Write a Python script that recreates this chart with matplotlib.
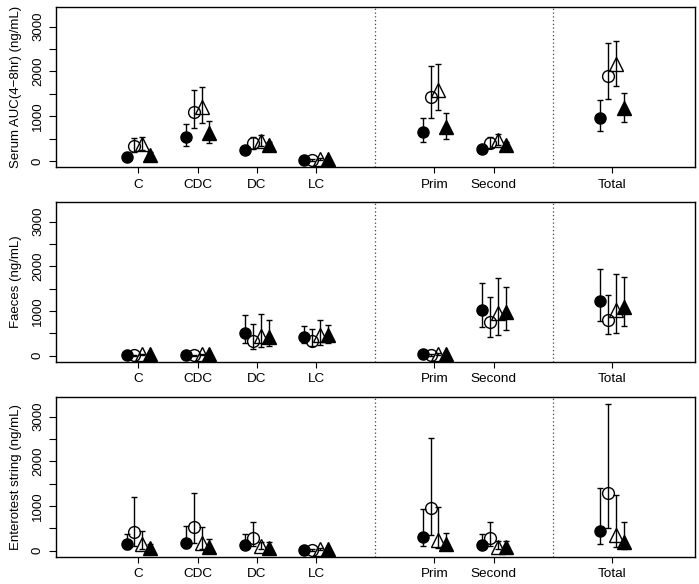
import matplotlib
matplotlib.use("Agg")
import matplotlib.pyplot as plt
import numpy as np

plt.rcParams['font.family'] = ['Liberation Sans', 'DejaVu Sans']

categories = ["C", "CDC", "DC", "LC", "Prim", "Second", "Total"]
xpos = [1, 2, 3, 4, 6, 7, 9]
dividers = [5, 8]
ylabels = ["Serum AUC(4\u22128hr) (ng/mL)", "Faeces (ng/mL)", "Enterotest string (ng/mL)"]

# group order: filled circle, open circle, open triangle, filled triangle
serum_mean = [[96, 541, 250, 15, 653, 260, 958],
              [334, 1085, 394, 20, 1441, 408, 1909],
              [378, 1209, 445, 40, 1597, 468, 2160],
              [134, 630, 356, 40, 764, 356, 1196]]
serum_hi = [[150, 824, 320, 30, 973, 320, 1374],
            [519, 1597, 541, 40, 2123, 541, 2644],
            [535, 1648, 586, 60, 2167, 601, 2688],
            [200, 884, 420, 60, 1069, 420, 1530]]
serum_lo = [[50, 341, 190, 5, 416, 200, 668],
            [200, 742, 280, 5, 973, 300, 1381],
            [250, 840, 330, 20, 1136, 350, 1686],
            [80, 408, 290, 20, 497, 290, 869]]

faeces_mean = [[15, 15, 515, 425, 38, 1023, 1224],
               [10, 10, 336, 336, 20, 747, 799],
               [30, 30, 448, 463, 40, 948, 1023],
               [30, 30, 425, 463, 40, 971, 1097]]
faeces_hi = [[30, 30, 910, 672, 60, 1620, 1941],
             [25, 25, 709, 598, 40, 1307, 1359],
             [50, 50, 933, 799, 60, 1732, 1822],
             [50, 50, 799, 687, 60, 1531, 1769]]
faeces_lo = [[5, 5, 277, 291, 20, 649, 776],
             [2, 2, 150, 217, 5, 425, 486],
             [15, 15, 187, 240, 20, 463, 515],
             [15, 15, 217, 291, 20, 575, 665]]

entero_mean = [[143, 179, 128, 15, 313, 128, 448],
               [425, 524, 278, 20, 963, 278, 1285],
               [143, 166, 98, 40, 240, 90, 351],
               [54, 76, 67, 40, 143, 76, 188]]
entero_hi = [[367, 560, 367, 30, 933, 374, 1397],
             [1195, 1285, 649, 40, 2530, 649, 3277],
             [448, 524, 201, 60, 971, 217, 1247],
             [150, 262, 188, 60, 403, 217, 649]]
entero_lo = [[40, 54, 40, 5, 112, 40, 143],
             [105, 166, 100, 5, 351, 100, 501],
             [40, 50, 30, 20, 60, 30, 90],
             [15, 20, 20, 20, 40, 20, 38]]

panels = [(serum_mean, serum_lo, serum_hi),
          (faeces_mean, faeces_lo, faeces_hi),
          (entero_mean, entero_lo, entero_hi)]

offsets = [-0.2, -0.0667, 0.0667, 0.2]
markers = ['o', 'o', '^', '^']
filled = [True, False, False, True]
msizes = [8, 8.5, 9.5, 9.5]

fig = plt.figure(figsize=(6.99, 5.84), dpi=100)
left, right = 0.0794, 0.9943
bounds = [(0.714, 0.9875), (0.3807, 0.6536), (0.0468, 0.3197)]

for (mean, lo, hi), (b, t), ylab in zip(panels, bounds, ylabels):
    ax = fig.add_axes([left, b, right - left, t - b])
    for d in dividers:
        ax.axvline(d, color='#444444', linestyle=(0, (1, 2)), lw=0.9, zorder=1)
    for g in range(4):
        x = np.array(xpos) + offsets[g]
        m = np.array(mean[g], dtype=float)
        l = np.array(lo[g], dtype=float)
        h = np.array(hi[g], dtype=float)
        ax.errorbar(x, m, yerr=[m - l, h - m], fmt='none', ecolor='black',
                    elinewidth=1.0, capsize=2.5, capthick=1.0, zorder=2)
        if filled[g]:
            ax.plot(x, m, linestyle='none', marker=markers[g], color='black',
                    markersize=msizes[g], zorder=3)
        else:
            ax.plot(x, m, linestyle='none', marker=markers[g], markerfacecolor='none',
                    markeredgecolor='black', markeredgewidth=1.0,
                    markersize=msizes[g], zorder=3)
    ax.set_xlim(-0.4, 10.4)
    ax.set_ylim(-132, 3432)
    ax.set_xticks(xpos)
    ax.set_xticklabels(categories, fontsize=9.7)
    ax.set_yticks([0, 500, 1000, 1500, 2000, 2500, 3000])
    ax.set_yticklabels(['0', '', '1000', '', '2000', '', '3000'], fontsize=9.5,
                       rotation=90, va='center')
    ax.tick_params(axis='x', direction='out', length=4.3, width=0.8, pad=4)
    ax.tick_params(axis='y', direction='out', length=4.8, width=0.8, pad=3.5)
    ax.set_ylabel(ylab, fontsize=9.5, labelpad=7)
    for s in ax.spines.values():
        s.set_linewidth(1.0)

fig.savefig("out.png", dpi=100)
